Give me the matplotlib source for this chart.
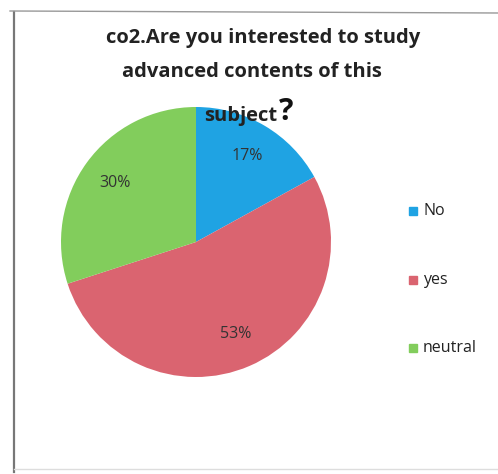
import matplotlib
matplotlib.use('Agg')
import matplotlib.pyplot as plt
from matplotlib.lines import Line2D

# data
labels = ['No', 'yes', 'neutral']
shares = [17, 53, 30]
colors = ['#1fa3e3', '#da6470', '#82cd5c']

title_lines = ['co2.Are you interested to study', 'advanced contents of this']

fig = plt.figure(figsize=(4.98, 4.74), dpi=100)
W, H = 498.0, 474.0

def fx(x):
    return x / W

def fy(y):
    return 1 - y / H

# frame of the scanned chart
fig.add_artist(Line2D([fx(14), fx(14)], [fy(12), fy(472)], color='#777777', lw=1.6))
fig.add_artist(Line2D([fx(10), fx(498)], [fy(11), fy(13)], color='#999999', lw=1.0))
fig.add_artist(Line2D([fx(14), fx(498)], [fy(469), fy(469)], color='#dddddd', lw=1.0))

# title
fig.text(fx(263), fy(38), title_lines[0], ha='center', va='center',
         fontsize=14.5, fontweight='bold', family='Open Sans', color='#222222')
fig.text(fx(252), fy(72), title_lines[1], ha='center', va='center',
         fontsize=14.5, fontweight='bold', family='Open Sans', color='#222222')

# pie
ax = fig.add_axes([fx(61), fy(377), 270 / W, 270 / H])
wedges, texts, autotexts = ax.pie(shares, colors=colors, startangle=90,
                                  counterclock=False, autopct='%.0f%%',
                                  pctdistance=0.74,
                                  textprops={'fontsize': 11.5, 'family': 'Open Sans',
                                             'color': '#333333'})
ax.set_xlim(-1, 1)
ax.set_ylim(-1, 1)
ax.set_aspect('equal')

# third title line sits over the pie
fig.text(fx(204), fy(116), 'subject', ha='left', va='center',
         fontsize=14.5, fontweight='bold', family='Open Sans', color='#222222')
fig.text(fx(279), fy(112), '?', ha='left', va='center',
         fontsize=22, fontweight='bold', family='Open Sans', color='#111111')

# legend
leg_y = [211, 280, 348]
for lab, col, y in zip(labels, colors, leg_y):
    fig.add_artist(plt.Rectangle((fx(409), fy(y + 4)), 8 / W, 8 / H,
                                 color=col, transform=fig.transFigure))
    fig.text(fx(423), fy(y), lab, ha='left', va='center',
             fontsize=11.5, family='Open Sans', color='#222222')

plt.savefig('out.png', dpi=100)
